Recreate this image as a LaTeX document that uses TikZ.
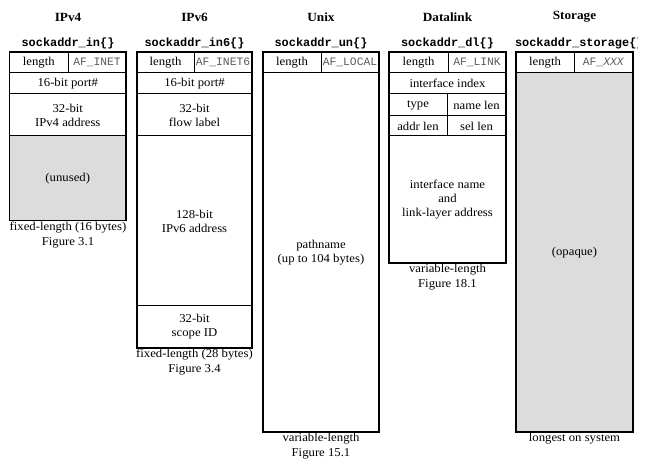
\documentclass[tikz,border=0pt]{standalone}
\usepackage{fontspec}
\setmainfont{Liberation Serif}[FakeStretch=1.06]
\setmonofont{Liberation Mono}
\definecolor{unusedgray}{HTML}{DCDCDC}
\definecolor{famtext}{HTML}{5A5A5A}

% one field of a socket address structure, given by its corners
% #1 style, #2 name, #3 x1, #4 y1, #5 x2, #6 y2, #7 text
\newcommand{\fieldcell}[7][]{%
  \node[cell, #1, minimum width={#5-#3}, minimum height={#6-#4}]
    (#2) at ({(#3+#5)/2},{(#4+#6)/2}) {#7};}

\begin{document}
\begin{tikzpicture}[x=1pt, y=-1pt,
  cell/.style={draw, line width=1pt, inner sep=0pt, outer sep=0pt,
    align=center, font=\fontsize{12}{14.2}\selectfont},
  famcell/.style={font=\fontsize{11.3}{13}\selectfont\ttfamily, text=famtext},
  shaded/.style={fill=unusedgray},
  frame/.style={draw, line width=1.5pt},
  family/.style={font=\fontsize{12.5}{14}\selectfont\bfseries},
  structname/.style={font=\fontsize{11.9}{13}\selectfont\ttfamily\bfseries},
  caption/.style={align=center, inner sep=0pt, font=\fontsize{12}{15}\selectfont}]
\useasboundingbox (0,0) rectangle (649,470);

% ---------------- IPv4 ----------------
\node[family] (v4title) at (68,17) {IPv4};
\node[structname] (v4struct) at (68,43) {sockaddr\_in\{\}};
\fieldcell{v4len}{9.5}{52}{68}{73}{length}
\fieldcell[famcell]{v4fam}{68}{52}{126}{73}{AF\_INET}
\fieldcell{v4port}{9.5}{73}{126}{94}{16-bit port\#}
\fieldcell{v4addr}{9.5}{94}{126}{136}{32-bit\\IPv4 address}
\fieldcell[shaded]{v4unused}{9.5}{136}{126}{220.5}{(unused)}
\draw[frame] (v4len.north west) rectangle (v4unused.south east);
\node[caption] (v4cap) at (68,235.5) {fixed-length (16 bytes)\\Figure 3.1};

% ---------------- IPv6 ----------------
\node[family] (v6title) at (194.5,17) {IPv6};
\node[structname] (v6struct) at (194.5,43) {sockaddr\_in6\{\}};
\fieldcell{v6len}{137}{52}{194}{73}{length}
\fieldcell[famcell]{v6fam}{194}{52}{252}{73}{AF\_INET6}
\fieldcell{v6port}{137}{73}{252}{94}{16-bit port\#}
\fieldcell{v6flow}{137}{94}{252}{136}{32-bit\\flow label}
\fieldcell{v6addr}{137}{136}{252}{306}{128-bit\\IPv6 address}
\fieldcell{v6scope}{137}{306}{252}{348}{32-bit\\scope ID}
\draw[frame] (v6len.north west) rectangle (v6scope.south east);
\node[caption] (v6cap) at (194.5,362.5) {fixed-length (28 bytes)\\Figure 3.4};

% ---------------- Unix ----------------
\node[family] (untitle) at (321,17) {Unix};
\node[structname] (unstruct) at (321,43) {sockaddr\_un\{\}};
\fieldcell{unlen}{263}{52}{321}{73}{length}
\fieldcell[famcell]{unfam}{321}{52}{379}{73}{AF\_LOCAL}
\fieldcell{unpath}{263}{73}{379}{432}{pathname\\(up to 104 bytes)}
\draw[frame] (unlen.north west) rectangle (unpath.south east);
\node[caption] (uncap) at (321,446) {variable-length\\Figure 15.1};

% ---------------- Datalink ----------------
\node[family] (dltitle) at (447.5,17) {Datalink};
\node[structname] (dlstruct) at (447.5,43) {sockaddr\_dl\{\}};
\fieldcell{dllen}{389}{52}{448}{73}{length}
\fieldcell[famcell]{dlfam}{448}{52}{506}{73}{AF\_LINK}
\fieldcell{dlindex}{389}{73}{506}{94}{interface index}
\fieldcell{dltype}{389}{94}{447}{116}{type}
\fieldcell{dlnlen}{447}{94}{506}{116}{name len}
\fieldcell{dlalen}{389}{116}{447}{136}{addr len}
\fieldcell{dlslen}{447}{116}{506}{136}{sel len}
\fieldcell{dlname}{389}{136}{506}{263}{interface name\\and\\link-layer address}
\draw[frame] (dllen.north west) rectangle (dlname.south east);
\node[caption] (dlcap) at (447.5,277.5) {variable-length\\Figure 18.1};

% ---------------- Storage ----------------
\node[family] (sttitle) at (574.5,17) {Storage};
\begin{scope}
  % the structure name runs past the right edge of the page
  \clip (0,0) rectangle (637,470);
  \node[structname, anchor=west] (ststruct) at (511.5,43) {sockaddr\_storage\{\}};
\end{scope}
\fieldcell{stlen}{516}{52}{574}{73}{length}
\fieldcell[famcell]{stfam}{574}{52}{633}{73}{AF\_\textit{XXX}}
\fieldcell[shaded]{stopaque}{516}{73}{633}{432}{(opaque)}
\draw[frame] (stlen.north west) rectangle (stopaque.south east);
\node[caption] (stcap) at (574.5,439) {longest on system};

\end{tikzpicture}
\end{document}
